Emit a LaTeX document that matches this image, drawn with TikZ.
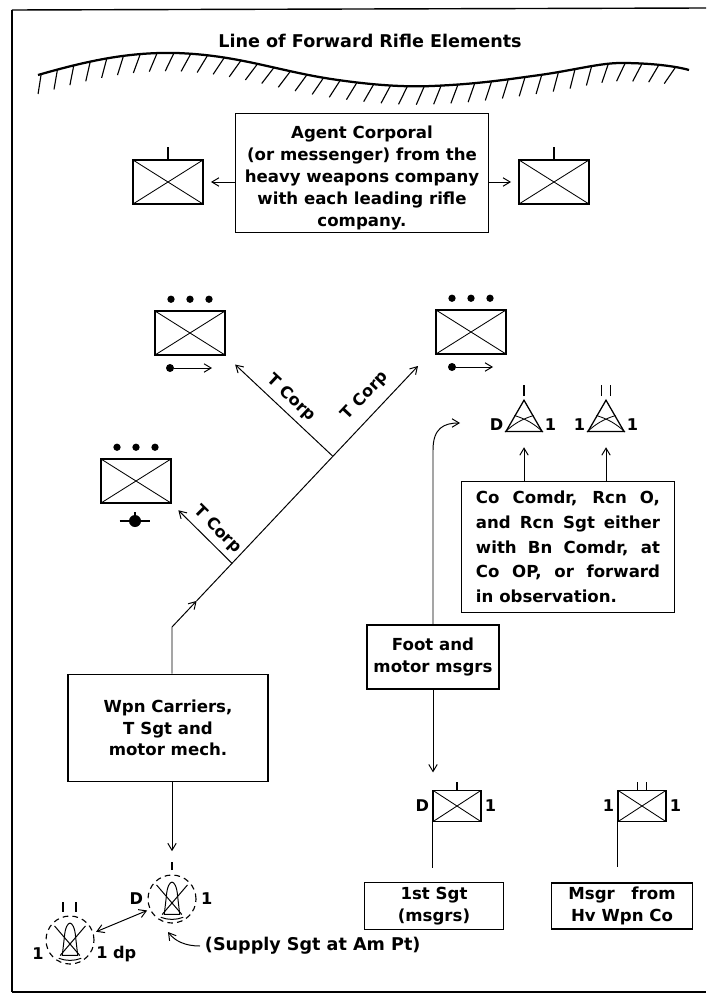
\documentclass[tikz,border=0pt]{standalone}
\usepackage{fontspec}
\setmainfont{DejaVu Sans}
\usetikzlibrary{arrows.meta,positioning,shapes.geometric,decorations.markings,calc}

\begin{document}
\begin{tikzpicture}[
  x=0.025cm, y=-0.025cm,
  txt/.style={font=\fontsize{11.8}{15.5}\selectfont\bfseries},
  box/.style={draw, line width=1.1pt, align=center, inner sep=2pt, txt},
  lbl/.style={font=\fontsize{11.5}{13}\selectfont\bfseries, inner sep=1pt},
  coy/.style={draw, line width=1.1pt, minimum width=1.75cm, minimum height=1.1cm, inner sep=0pt,
    path picture={\draw[line width=0.6pt] (path picture bounding box.south west) -- (path picture bounding box.north east)
      (path picture bounding box.north west) -- (path picture bounding box.south east);}},
  plt/.style={coy, minimum width=1.2cm, minimum height=0.78cm},
  op/.style={draw, line width=0.9pt, regular polygon, regular polygon sides=3, minimum size=1.04cm, inner sep=0pt},
  ammo/.style={draw, circle, dash pattern=on 4pt off 3pt, line width=0.8pt, minimum size=1.2cm, inner sep=0pt,
    path picture={
      \begin{scope}[shift={(path picture bounding box.center)}, line width=0.7pt, solid]
        \draw (-5.5pt,-11pt) -- (-4pt,2pt) .. controls (-3.5pt,9pt) and (-1.5pt,12pt) .. (0pt,12pt)
          .. controls (1.5pt,12pt) and (3.5pt,9pt) .. (4pt,2pt) -- (5.5pt,-11pt) -- cycle;
        \draw (-11pt,10pt) -- (7pt,-11pt) (11pt,10pt) -- (-7pt,-11pt);
        \draw (-8pt,-13pt) .. controls (-3pt,-15pt) and (3pt,-15pt) .. (8pt,-13pt);
      \end{scope}}},
  blob/.style={circle, fill, inner sep=0pt, minimum size=0.2cm},
  arrow/.style={-{Straight Barb[length=5pt,width=6pt]}, line width=0.7pt},
  arrows2/.style={{Straight Barb[length=5pt,width=6pt]}-{Straight Barb[length=5pt,width=6pt]}, line width=0.7pt},
  hatch/.style={postaction={decorate}, decoration={markings,
    mark=between positions 0.005 and 0.995 step 12pt with {\draw[line width=0.8pt] (0pt,0pt) -- (-6pt,-13pt);}}}
]
\useasboundingbox (0,0) rectangle (706,998);

% frame
\draw[line width=2pt] (12,10) -- (12,992);
\draw[line width=1pt] (12,10) -- (706,8);
\draw[line width=1pt] (12,992) -- (706,992);

% front line
\node[lbl, font=\fontsize{12.5}{14}\selectfont\bfseries] (title) at (370,41) {Line of Forward Rifle Elements};
\draw[line width=1.6pt, hatch] (38,75) .. controls (90,60) and (130,52) .. (176,53)
  .. controls (240,55) and (280,72) .. (338,80) .. controls (380,86) and (410,87) .. (432,86)
  .. controls (480,84) and (510,79) .. (540,75) .. controls (575,70) and (600,63) .. (621,63)
  .. controls (650,63) and (675,66) .. (689,70);

% boxes
\node[box, inner sep=0pt, minimum width=6.33cm, minimum height=2.98cm] (agent) at (362,173) {\rule{0pt}{16pt}Agent Corporal\\(or messenger) from the\\heavy weapons company\\with each leading rifle\\company.};
\node[box, minimum width=5cm, minimum height=2.68cm] (carriers) at (168,728) {Wpn Carriers,\\T Sgt and\\motor mech.};
\node[box, minimum width=3.3cm, minimum height=1.6cm] (foot) at (433,657) {Foot and\\motor msgrs};
\node[box, minimum width=5.33cm, minimum height=3.28cm, align=left, font=\fontsize{11.8}{17.5}\selectfont\bfseries] (comdr) at (568,547)
  {\makebox[4.6cm][s]{Co Comdr, Rcn O,}\\\makebox[4.6cm][s]{and Rcn Sgt either}\\\makebox[4.6cm][s]{with Bn Comdr, at}\\\makebox[4.6cm][s]{Co OP, or forward}\\in observation.};
\node[box, minimum width=3.48cm, minimum height=1.18cm] (sgt) at (434,906) {1st Sgt\\(msgrs)};
\node[box, minimum width=3.53cm, minimum height=1.15cm] (hvmsgr) at (622,906) {Msgr\quad from\\Hv Wpn Co};

% company symbols
\node[coy] (cL) at (168,182) {};
\node[coy] (cR) at (554,182) {};
\node[coy] (cUL) at (190,333) {};
\node[coy] (cUR) at (471,332) {};
\node[coy] (cLL) at (136,481) {};
\draw[line width=0.8pt] (cL.north) -- ++(0,-12);
\draw[line width=0.8pt] (cR.north) -- ++(0,-12);
\foreach \dx in {-19,0,19} {
  \fill (cUL.north) ++(\dx,-11) circle (2.6pt);
  \fill (cUR.north) ++(\dx,-11) circle (2.6pt);
  \fill (cLL.north) ++(\dx,-11) circle (2.6pt);
}
\node[blob] (mvUL) at (170,368) {};
\coordinate (mvULend) at (212,368);
\draw[arrow] (mvUL) -- (mvULend);
\node[blob] (mvUR) at (452,367) {};
\coordinate (mvURend) at (493,367);
\draw[arrow] (mvUR) -- (mvURend);
\node[blob, minimum size=0.3cm] (mtr) at (135,521) {};
\draw[line width=0.9pt] ([xshift=-11pt]mtr.center) -- ([xshift=11pt]mtr.center);
\draw[line width=1.2pt] (mtr.north) -- ++(0,-3);

% platoon symbols
\node[plt] (pltD) at (457,806) {};
\node[plt] (pltH) at (642,806) {};
\draw[line width=0.8pt] (pltD.north) -- ++(0,-8);
\draw[line width=0.8pt] ([xshift=-3.5pt]pltH.north) -- ++(0,-8) ([xshift=3.5pt]pltH.north) -- ++(0,-8);
\draw[line width=0.8pt] (pltD.south west) -- ++(0,46);
\draw[line width=0.8pt] (pltH.south west) -- ++(0,45);
\node[lbl, left=1pt of pltD.west] (lD1) {D};
\node[lbl, right=1pt of pltD.east] (lD2) {1};
\node[lbl, left=1pt of pltH.west] (lH1) {1};
\node[lbl, right=1pt of pltH.east] (lH2) {1};

% observation posts
\node[op] (opA) at (524,421) {};
\node[op] (opB) at (606,421) {};
\draw[line width=0.6pt] (opA.corner 2) to[bend left=12] (opA.side 3) (opA.corner 3) to[bend right=12] (opA.side 1);
\draw[line width=0.6pt] (opB.corner 2) to[bend left=12] (opB.side 3) (opB.corner 3) to[bend right=12] (opB.side 1);
\draw[line width=0.8pt] ([yshift=2pt]opA.corner 1) -- ++(0,-11);
\draw[line width=0.8pt] ([xshift=-3pt,yshift=2pt]opB.corner 1) -- ++(0,-11) ([xshift=3pt,yshift=2pt]opB.corner 1) -- ++(0,-11);
\node[lbl, anchor=south east] (lA1) at (opA.corner 2) {D};
\node[lbl, anchor=south west] (lA2) at (opA.corner 3) {1};
\node[lbl, anchor=south east] (lB1) at (opB.corner 2) {1};
\node[lbl, anchor=south west] (lB2) at (opB.corner 3) {1};
\draw[arrow, shorten >=0.38cm] (comdr.north -| opA) -- (opA.south);
\draw[arrow, shorten >=0.38cm] (comdr.north -| opB) -- (opB.south);

% ammunition points
\node[ammo] (ampt) at (172,899) {};
\node[ammo] (dump) at (70,940) {};
\draw[line width=0.8pt] ([yshift=3pt]ampt.north) -- ++(0,-8);
\draw[line width=0.8pt] (63,902) -- (63,912) (76,902) -- (76,912);
\node[lbl, left=2pt of ampt.west] (lP1) {D};
\node[lbl, right=2pt of ampt.east] (lP2) {1};
\node[lbl, anchor=east] (lQ1) at ([yshift=-10pt]dump.west) {1};
\node[lbl, anchor=west] (lQ2) at ([yshift=-10pt]dump.east) {1 dp};
\node[txt, font=\fontsize{12.5}{14}\selectfont\bfseries, anchor=west] (supply) at (200,946) {(Supply Sgt at Am Pt)};
\coordinate (supTip) at (168,932);
\draw[arrow] (supply.west) .. controls (185,946) and (175,941) .. (supTip);
\draw[arrows2, shorten <=2pt, shorten >=2pt] (dump.17) -- (ampt.205);

% connectors
\draw[arrow, shorten >=0.18cm] (agent.west |- cL.east) -- (cL.east);
\draw[arrow, shorten >=0.18cm] (agent.east |- cR.west) -- (cR.west);
\coordinate (bend) at (172,627);
\coordinate (fwd) at (418,366);
\coordinate (midA) at ($(bend)!0.1!(fwd)$);
\coordinate (j1) at ($(bend)!0.244!(fwd)$);
\coordinate (j2) at ($(bend)!0.654!(fwd)$);
\draw[arrow] (carriers.north -| bend) -- (bend) -- (midA);
\draw[arrow] (midA) -- (fwd) node[lbl, pos=0.82, sloped, above=6pt] {T Corp};
\draw[arrow, shorten >=0.23cm] (j1) -- (cLL.south east) node[lbl, pos=0.4, sloped, above=3pt] {T Corp};
\draw[arrow, shorten >=0.32cm] (j2) -- (cUL.south east) node[lbl, pos=0.48, sloped, above=3pt] {T Corp};
\draw[arrow, shorten >=0.58cm] (carriers.south -| ampt) -- (ampt.north);
\coordinate (opIn) at (460,423);
\draw[arrow] (foot.north) -- (433,450) .. controls (433,428) and (444,423) .. (opIn);
\draw[arrow, shorten >=0.43cm] (foot.south) -- (foot.south |- pltD.north);
\end{tikzpicture}
\end{document}
